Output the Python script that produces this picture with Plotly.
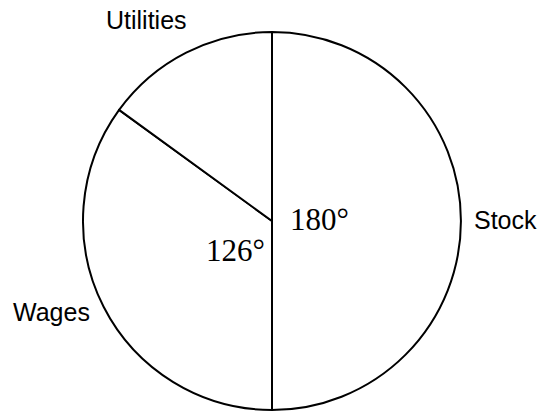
import plotly.graph_objects as go

labels = ["Stock", "Wages", "Utilities"]
degrees = [180, 126, 54]
angle_texts = ["180°", "126°"]

W, H = 542, 412
cx, cy, r = 272, 221, 189

fig = go.Figure(go.Pie(
    labels=labels,
    values=degrees,
    sort=False,
    direction="clockwise",
    rotation=0,
    textinfo="none",
    hoverinfo="label+value",
    marker=dict(colors=["white"] * 3, line=dict(color="black", width=2)),
    domain=dict(x=[(cx - r) / W, (cx + r) / W], y=[(H - cy - r) / H, (H - cy + r) / H]),
    showlegend=False,
))

def px(x, y):
    return x / W, 1 - y / H

sans = dict(family="Arial, Liberation Sans, sans-serif", size=25, color="black")
serif = dict(family="Times New Roman, Liberation Serif, serif", size=31, color="black")

label_pos = {"Utilities": (146, 20), "Stock": (505, 220), "Wages": (51, 312)}
angle_pos = [(319, 219), (235, 251)]

annotations = []
for lab in labels:
    x, y = px(*label_pos[lab])
    annotations.append(dict(x=x, y=y, xref="paper", yref="paper", text=lab, showarrow=False,
                            xanchor="center", yanchor="middle", font=sans))
for t, (ax, ay) in zip(angle_texts, angle_pos):
    x, y = px(ax, ay)
    annotations.append(dict(x=x, y=y, xref="paper", yref="paper", text=t, showarrow=False,
                            xanchor="center", yanchor="middle", font=serif))

fig.update_layout(
    width=W, height=H,
    margin=dict(l=0, r=0, t=0, b=0),
    paper_bgcolor="white", plot_bgcolor="white",
    annotations=annotations,
)

fig.write_html("out.html", config={"displayModeBar": False},
               post_script="document.body.style.margin='0';")
